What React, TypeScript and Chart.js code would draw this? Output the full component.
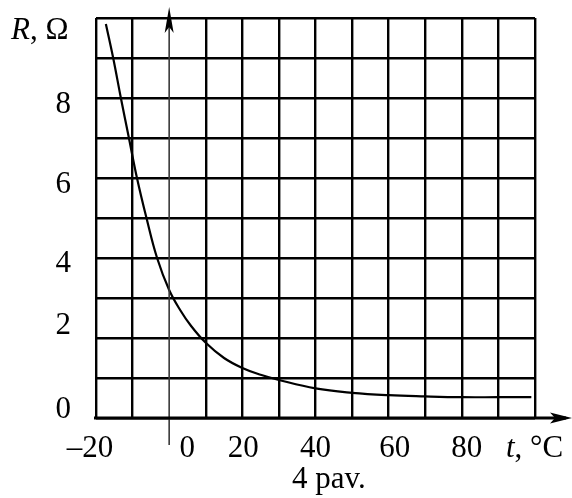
import React, { useEffect, useRef } from 'react';
import { Chart, registerables } from 'chart.js';

Chart.register(...registerables);

// ---- data ----
const temperatures = [-17.3, -15.3, -13.2, -11, -8.8, -6.2, -3.3, 0, 3, 6, 10, 15, 20, 25, 30, 40, 50, 60, 70, 80, 90, 99];
const resistance = [9.85, 9.0, 8.0, 7.0, 6.0, 5.0, 4.0, 3.2, 2.7, 2.3, 1.88, 1.5, 1.25, 1.08, 0.95, 0.74, 0.63, 0.57, 0.54, 0.52, 0.52, 0.52];
const xTickValues = [-20, 0, 20, 40, 60, 80];
const xTickLabels = ['\u201320', '0', '20', '40', '60', '80'];
const yTickValues = [0, 2, 4, 6, 8];
const yTickLabels = ['0', '2', '4', '6', '8'];
const xTitleVar = 't';
const xTitleRest = ', \u00B0C';
const yTitleVar = 'R';
const yTitleRest = ', \u03A9';
const caption = '4 pav.';

// ---- style (positions are offsets only) ----
const FONT = '"Liberation Serif", "Times New Roman", serif';
const FS = 31;
const xLabelDx = [-6, 18, 1, 0, 6, 5];
const yLabelDy = [-10, -14, 4, 5, 4.5];

const overlay = {
  id: 'overlay',
  afterDraw(chart: any) {
    const ctx = chart.ctx as CanvasRenderingContext2D;
    const xs = chart.scales.x;
    const ys = chart.scales.y;
    const x0 = xs.getPixelForValue(0);
    const yBottom = ys.getPixelForValue(0);
    ctx.save();
    // y axis (gray line with arrow)
    ctx.strokeStyle = '#3a3a3a';
    ctx.lineWidth = 1.6;
    ctx.beginPath();
    ctx.moveTo(x0, yBottom + 27);
    ctx.lineTo(x0, 20);
    ctx.stroke();
    ctx.fillStyle = '#000';
    ctx.beginPath();
    ctx.moveTo(x0, 7);
    ctx.lineTo(x0 + 4.5, 33);
    ctx.lineTo(x0, 27);
    ctx.lineTo(x0 - 4.5, 33);
    ctx.closePath();
    ctx.fill();
    // x axis
    ctx.strokeStyle = '#000';
    ctx.lineWidth = 2.8;
    ctx.beginPath();
    ctx.moveTo(xs.left - 2, yBottom);
    ctx.lineTo(566, yBottom);
    ctx.stroke();
    ctx.beginPath();
    ctx.moveTo(572, yBottom);
    ctx.lineTo(550, yBottom - 5.5);
    ctx.lineTo(555, yBottom);
    ctx.lineTo(550, yBottom + 5.5);
    ctx.closePath();
    ctx.fill();

    ctx.fillStyle = '#000';
    ctx.font = `${FS}px ${FONT}`;
    ctx.textBaseline = 'alphabetic';
    // x tick labels
    ctx.textAlign = 'center';
    xTickValues.forEach((v, i) => {
      ctx.fillText(xTickLabels[i], xs.getPixelForValue(v) + xLabelDx[i], 457);
    });
    // y tick labels
    ctx.textAlign = 'right';
    yTickValues.forEach((v, i) => {
      ctx.fillText(yTickLabels[i], 71, ys.getPixelForValue(v) + yLabelDy[i] + 10);
    });
    // axis titles
    ctx.textAlign = 'left';
    ctx.font = `italic ${FS}px ${FONT}`;
    ctx.fillText(yTitleVar, 11, 39);
    let w = ctx.measureText(yTitleVar).width;
    ctx.font = `${FS}px ${FONT}`;
    ctx.fillText(yTitleRest, 11 + w, 39);

    ctx.font = `italic ${FS}px ${FONT}`;
    ctx.fillText(xTitleVar, 506, 457);
    w = ctx.measureText(xTitleVar).width;
    ctx.font = `${FS}px ${FONT}`;
    ctx.fillText(xTitleRest, 506 + w, 457);

    // caption
    ctx.fillText(caption, 292, 488);
    ctx.restore();
  },
};

export default function App() {
  const ref = useRef<HTMLCanvasElement | null>(null);
  useEffect(() => {
    if (!ref.current) return;
    const chart = new Chart(ref.current, {
      type: 'line',
      data: {
        datasets: [
          {
            data: temperatures.map((t, i) => ({ x: t, y: resistance[i] })),
            borderColor: '#000',
            borderWidth: 2.2,
            pointRadius: 0,
            tension: 0.4,
            fill: false,
          },
        ],
      },
      options: {
        animation: false,
        responsive: false,
        devicePixelRatio: 1,
        layout: { padding: { left: 96, top: 18, right: 37, bottom: 80 } },
        plugins: { legend: { display: false }, tooltip: { enabled: false } },
        scales: {
          x: {
            type: 'linear',
            min: -20,
            max: 100,
            ticks: { display: false, stepSize: 10 },
            grid: {
              color: (c: any) => (c.tick && c.tick.value === 0 ? 'rgba(0,0,0,0)' : '#000'),
              lineWidth: 2.4,
              drawTicks: false,
            },
            border: { display: false },
          },
          y: {
            type: 'linear',
            min: 0,
            max: 10,
            ticks: { display: false, stepSize: 1 },
            grid: { color: '#000', lineWidth: 2.4, drawTicks: false },
            border: { display: false },
          },
        },
      },
      plugins: [overlay],
    });
    return () => chart.destroy();
  }, []);
  return (
    <div style={{ position: 'fixed', left: 0, top: 0, width: 572, height: 498, background: '#fff' }}>
      <canvas ref={ref} width={572} height={498} />
    </div>
  );
}
